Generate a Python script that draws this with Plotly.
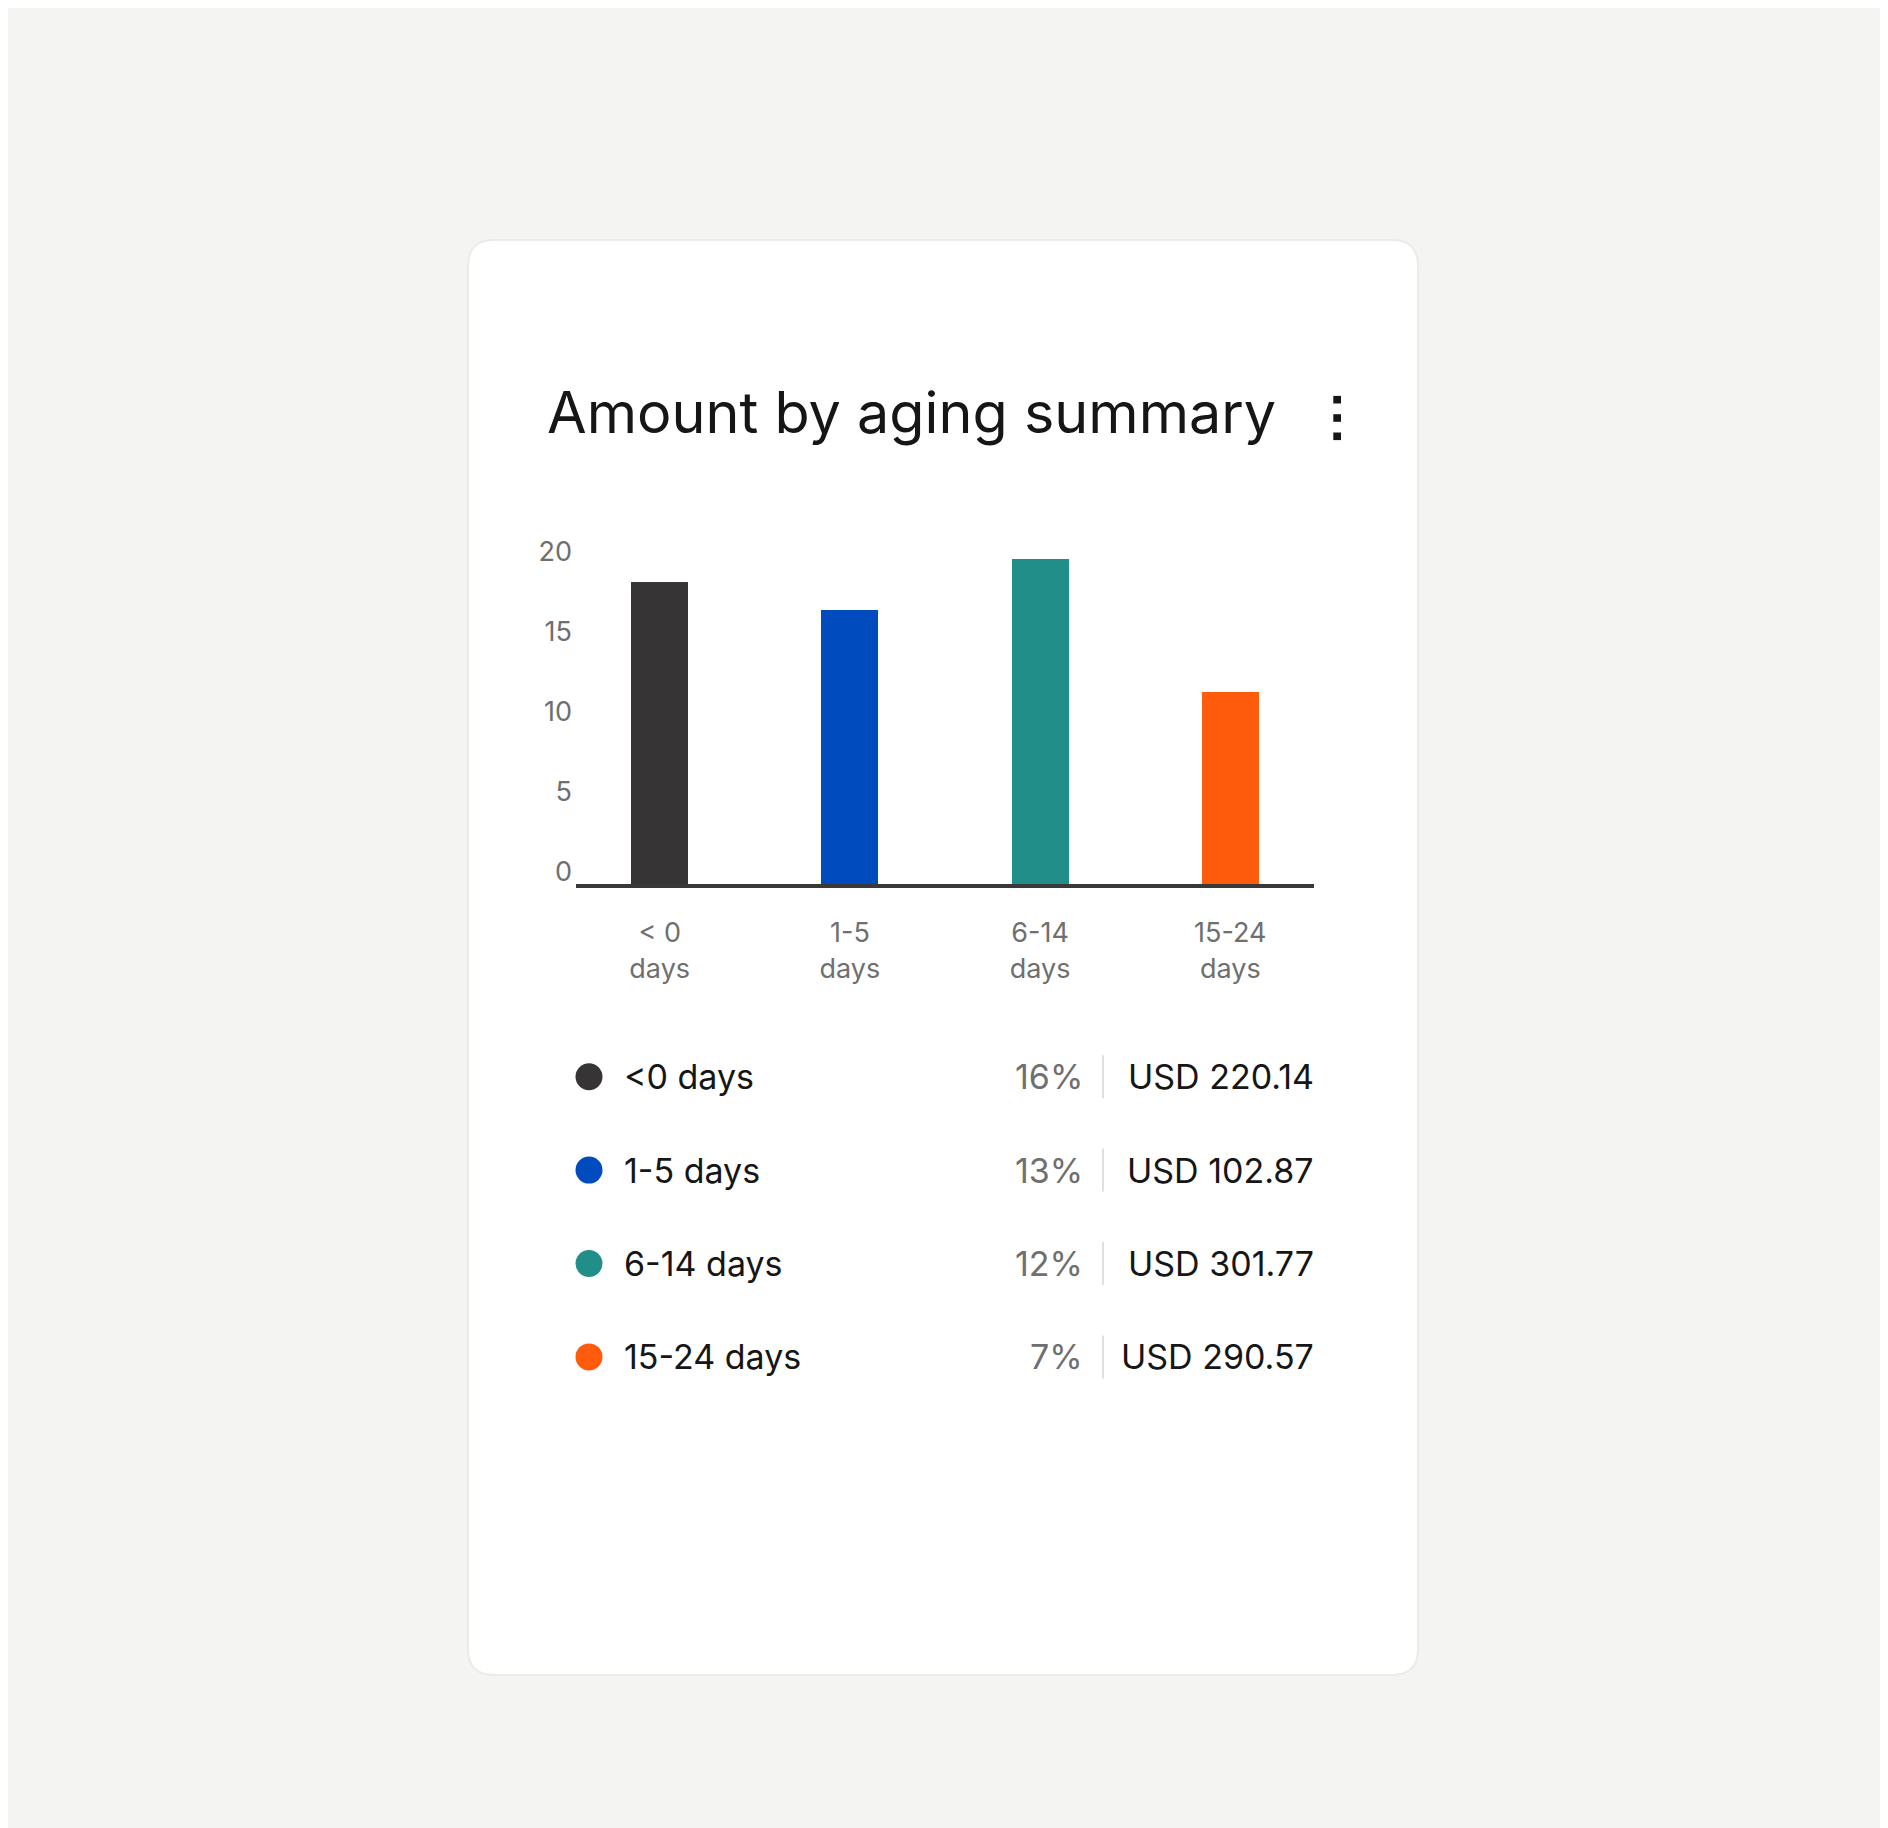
import plotly.graph_objects as go

W, H = 1888, 1828
FONT = "Inter"
OFF = 8  # page body margin

# chart data
CATEGORIES = ["< 0 days", "1-5 days", "6-14 days", "15-24 days"]
TICK_LABELS = ["< 0<br>days", "1-5<br>days", "6-14<br>days", "15-24<br>days"]
VALUES = [18.9, 17.1, 20.3, 12.0]
COLORS = ["#363435", "#004bbd", "#218e89", "#fe5b0c"]
Y_TICKS = [0, 5, 10, 15, 20]

# legend table
LEGEND_LABELS = ["<0 days", "1-5 days", "6-14 days", "15-24 days"]
LEGEND_PCT = ["16%", "13%", "12%", "7%"]
LEGEND_AMOUNT = ["USD 220.14", "USD 102.87", "USD 301.77", "USD 290.57"]


def px(x):
    return (x - OFF) / W


def py(y):
    return 1 - (y - OFF) / H


fig = go.Figure()

fig.add_trace(
    go.Bar(
        x=CATEGORIES,
        y=VALUES,
        marker=dict(color=COLORS, line=dict(width=0)),
        width=0.3,
        hoverinfo="skip",
    )
)

# legend dots on their own axes, one row per category
rows = list(range(len(LEGEND_LABELS)))
fig.add_trace(
    go.Scatter(
        x=[589 - OFF] * len(rows),
        y=rows,
        xaxis="x2",
        yaxis="y2",
        mode="markers",
        marker=dict(size=27, color=COLORS, line=dict(width=0)),
        hoverinfo="skip",
    )
)

# card background with rounded corners
L, R, T, B = px(468), px(1418), py(240), py(1675)
rx, ry = 26 / W, 26 / H
card = (
    f"M {L + rx},{T} L {R - rx},{T} Q {R},{T} {R},{T - ry} "
    f"L {R},{B + ry} Q {R},{B} {R - rx},{B} L {L + rx},{B} "
    f"Q {L},{B} {L},{B + ry} L {L},{T - ry} Q {L},{T} {L + rx},{T} Z"
)
shapes = [
    dict(type="path", path=card, xref="paper", yref="paper",
         fillcolor="#ffffff", line=dict(color="#ebebe8", width=2), layer="below")
]

# kebab menu
for cy in [399.7, 418, 436.3]:
    shapes.append(dict(type="rect", xref="paper", yref="paper",
                       x0=px(1333.3), x1=px(1341), y0=py(cy - 3.8), y1=py(cy + 3.8),
                       fillcolor="#161616", line=dict(width=0)))

annotations = [
    dict(text="Amount by aging summary", xref="paper", yref="paper",
         x=px(545), y=py(412), xanchor="left", yanchor="middle", showarrow=False,
         font=dict(family=FONT, size=57.5, color="#161616"))
]

for i in rows:
    annotations.append(dict(text=LEGEND_LABELS[i], xref="x2", yref="y2", x=622 - OFF, y=i,
                            xanchor="left", yanchor="middle", showarrow=False,
                            font=dict(family=FONT, size=34, color="#161616")))
    annotations.append(dict(text=LEGEND_PCT[i], xref="x2", yref="y2", x=1085 - OFF, y=i,
                            xanchor="right", yanchor="middle", showarrow=False,
                            font=dict(family=FONT, size=34, color="#6f6f6f")))
    annotations.append(dict(text=LEGEND_AMOUNT[i], xref="x2", yref="y2", x=1316 - OFF, y=i,
                            xanchor="right", yanchor="middle", showarrow=False,
                            font=dict(family=FONT, size=34, color="#161616")))
    shapes.append(dict(type="line", xref="x2", yref="y2", x0=1103 - OFF, x1=1103 - OFF,
                       y0=i - 0.23, y1=i + 0.23, line=dict(color="#e0e0e0", width=2)))

fig.update_layout(
    width=W,
    height=H,
    margin=dict(l=0, r=0, t=0, b=0, pad=0, autoexpand=False),
    paper_bgcolor="#f4f4f2",
    plot_bgcolor="rgba(0,0,0,0)",
    showlegend=False,
    bargap=0,
    font=dict(family=FONT, color="#6f6f6f"),
    xaxis=dict(
        domain=[px(576), px(1314)],
        range=[-0.44, 3.44],
        tickvals=CATEGORIES,
        ticktext=TICK_LABELS,
        showline=True,
        linecolor="#393939",
        linewidth=4,
        showgrid=False,
        zeroline=False,
        ticks="",
        ticklabelstandoff=22,
        tickfont=dict(family=FONT, size=27, color="#6f6f6f"),
        automargin=False,
        fixedrange=True,
    ),
    yaxis=dict(
        domain=[py(884), py(884 - 21 * 16)],
        range=[0, 21],
        tickvals=Y_TICKS,
        showline=False,
        showgrid=False,
        zeroline=False,
        ticks="",
        ticklabelshift=-12,
        ticklabelstandoff=3,
        tickfont=dict(family=FONT, size=27, color="#6f6f6f"),
        automargin=False,
        fixedrange=True,
    ),
    xaxis2=dict(domain=[0, 1], range=[0, W], visible=False, fixedrange=True,
                automargin=False),
    yaxis2=dict(domain=[py(1403.6), py(1030)], range=[3.5, -0.5], visible=False,
                fixedrange=True, automargin=False),
    shapes=shapes,
    annotations=annotations,
)

fig.write_html("out.html", config={"displayModeBar": False})
